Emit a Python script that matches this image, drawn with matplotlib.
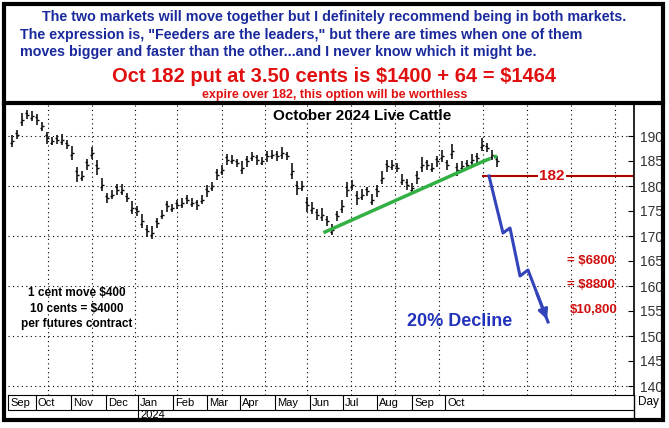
import matplotlib
matplotlib.use("Agg")
import matplotlib.pyplot as plt
from matplotlib.patches import Rectangle
from matplotlib.lines import Line2D

plt.rcParams['font.family'] = ['Liberation Sans', 'DejaVu Sans']
plt.rcParams['text.parse_math'] = False

closes = [189, 190.3, 193.3, 194.3, 194, 193.3, 192, 189.7, 189, 189.3, 189.3, 188.3, 186.7, 182.3,
          182, 184.3, 186.7, 183.7, 180.3, 177.7, 178.3, 179.3, 179.3, 177.7, 175.7, 175, 173, 171,
          170.7, 172.7, 174.3, 176, 175.7, 176.3, 176.7, 177.3, 176.7, 176.3, 177.3, 179, 180, 182.3,
          183.3, 185.3, 185.3, 184.7, 183.7, 185, 186, 185.3, 185, 186, 186.3, 186, 186.7, 186, 183,
          179.7, 180, 176.3, 175.7, 174.3, 174.3, 173, 171.3, 174, 176, 179.3, 180.3, 177.7, 178.3,
          179, 177.3, 179, 181.7, 184, 184.3, 183.7, 181.3, 180.3, 179.7, 181.7, 184.3, 184.3, 183.7,
          185, 186, 184.3, 187, 183.3, 184, 184.3, 185.3, 185.7, 188.3, 187.7, 186.3, 185]
half_ranges = [1.2, 0.9, 1.3, 0.8, 1.0, 1.1, 0.9, 1.2, 0.8, 0.9, 1.1, 0.8, 1.4, 1.6, 1.0, 1.1, 1.2, 1.5,
               1.3, 1.0, 0.9, 1.1, 1.2, 0.9, 1.3, 1.0, 1.4, 1.2, 1.3, 1.0, 0.9, 1.1, 0.8, 0.9, 1.0, 0.8,
               0.9, 1.0, 0.9, 1.2, 0.9, 1.1, 1.0, 1.2, 0.9, 0.8, 1.3, 1.1, 0.9, 1.0, 0.8, 1.1, 0.9, 1.0,
               1.2, 0.8, 1.6, 1.4, 1.0, 1.5, 1.2, 1.1, 1.3, 1.0, 1.2, 1.0, 1.3, 1.5, 1.0, 1.4, 1.1, 0.9,
               1.1, 1.2, 1.3, 1.2, 1.0, 0.9, 1.2, 1.1, 1.0, 1.3, 1.4, 1.0, 0.9, 1.1, 1.2, 1.0, 1.5, 1.3,
               1.0, 0.9, 1.1, 1.0, 1.3, 0.9, 1.0, 1.1]
yticks = [140, 145, 150, 155, 160, 165, 170, 175, 180, 185, 190]
ygrid = [140, 150, 160, 170, 180, 190]
months = ["Sep", "Oct", "Nov", "Dec", "Jan", "Feb", "Mar", "Apr", "May", "Jun", "Jul", "Aug", "Sep", "Oct"]
month_px = [8, 36, 71, 106, 138, 173, 207, 240, 275, 310, 343, 377, 412, 445]
xgrid = [7.2, 16, 24.6, 33, 42, 50.6, 59, 67.8, 76.6, 85.4, 94.2, 103, 111.8, 120.6]
trend_x = [62.6, 94.4]; trend_y = [170.8, 185.0]
trend_ext_x = [94.4, 97.0]; trend_ext_y = [185.0, 186.0]
arrow_x = [95.4, 98.2, 99.6, 101.6, 103.2, 107.2]
arrow_y = [182, 170.6, 171.6, 162, 163.2, 152.8]
strike = 182

W, H = 669, 428
fig = plt.figure(figsize=(W/100, H/100), dpi=100)

def fr(x0, y0, x1, y1):
    return [x0/W, 1-y1/H, (x1-x0)/W, (y1-y0)/H]

ax = fig.add_axes(fr(8, 105, 634, 395))
ax.set_xlim(-0.8, 124.4)
ax.set_ylim(138.2, 196.2)
for g in xgrid:
    ax.axvline(g, color='black', ls=(0, (1, 3)), lw=0.8)
for g in ygrid:
    ax.axhline(g, color='black', ls=(0, (1, 3)), lw=0.8)
for i, (c, r) in enumerate(zip(closes, half_ranges)):
    ax.vlines(i, c - r, c + r, color='black', lw=1.1)
    ax.hlines(c, i, i + 0.35, color='black', lw=1)
    ax.hlines(c + (r * 0.4 if i % 2 else -r * 0.4), i - 0.35, i, color='black', lw=1)
ax.yaxis.tick_right()
ax.set_yticks(yticks)
ax.set_yticklabels([str(v) for v in yticks], fontsize=10, color='#333333')
ax.tick_params(axis='y', length=4, direction='in', pad=4)
ax.set_xticks([])
for s in ['top', 'left', 'bottom']:
    ax.spines[s].set_visible(False)
ax.spines['right'].set_linewidth(1.2)

ax.plot(trend_x, trend_y, color='#33b044', lw=2.5)
ax.plot(trend_ext_x, trend_ext_y, color='#33b044', lw=2.5, ls=(0, (2, 1)))
ax.hlines(strike, 94, 124.4, color='#b00000', lw=1.5)
ax.text(108, strike, "182", color='#d01010', fontsize=11, fontweight='bold', ha='center', va='center',
        bbox=dict(facecolor='white', edgecolor='none', pad=0.5))
ax.plot(arrow_x, arrow_y, color='#3344bb', lw=2.2)
ax.annotate("", xy=(arrow_x[-1], arrow_y[-1]), xytext=(arrow_x[-2] + 1.6, arrow_y[-2] - 4.2),
            arrowprops=dict(arrowstyle='-|>', color='#3344bb', lw=2.2, mutation_scale=14))
ax.text(70, 194, "October 2024 Live Cattle", fontsize=11, fontweight='bold', ha='center', va='center')
ax.text(111, 165, "= $6800", color='#d01010', fontsize=9.5, fontweight='bold', va='center')
ax.text(111, 160.2, "= $8800", color='#d01010', fontsize=9.5, fontweight='bold', va='center')
ax.text(111.5, 155.2, "$10,800", color='#d01010', fontsize=9.5, fontweight='bold', va='center')
ax.text(89.5, 153, "20% Decline", color='#2233bb', fontsize=13, fontweight='bold', ha='center', va='center')
ax.text(13, 155.5, "1 cent move $400\n10 cents = $4000\nper futures contract", fontsize=8.5,
        fontweight='bold', ha='center', va='center', linespacing=1.4)

# month strip
for px, m in zip(month_px, months):
    fig.add_artist(Line2D([px/W, px/W], [1-395/H, 1-410/H], color='black', lw=0.8))
    fig.text((px+2)/W, 1-403/H, m, fontsize=8, va='center', ha='left')
fig.add_artist(Line2D([138/W, 138/W], [1-410/H, 1-418/H], color='black', lw=0.8))
fig.text(140/W, 1-414.5/H, "2024", fontsize=8, va='center')
fig.add_artist(Line2D([8/W, 634/W], [1-410/H, 1-410/H], color='black', lw=0.8))
fig.add_artist(Line2D([8/W, 634/W], [1-395/H, 1-395/H], color='black', lw=0.8))
fig.add_artist(Line2D([634/W, 634/W], [1-395/H, 1-418/H], color='black', lw=1))
fig.text(648/W, 1-402/H, "Day", fontsize=8.5, ha='center', va='center')

# frames
fig.add_artist(Rectangle((4/W, 1-420/H), 659/W, 416/H, fill=False, lw=3, edgecolor='black'))
fig.add_artist(Line2D([4/W, 663/W], [1-103/H, 1-103/H], color='black', lw=3))

blue = '#1a2a9c'
fig.text(0.5, 1-17/H, "The two markets will move together but I definitely recommend being in both markets.",
         color=blue, fontsize=10.3, fontweight='bold', ha='center', va='center')
fig.text(20/W, 1-35/H, 'The expression is, "Feeders are the leaders," but there are times when one of them',
         color=blue, fontsize=10.3, fontweight='bold', ha='left', va='center')
fig.text(20/W, 1-52/H, "moves bigger and faster than the other...and I never know which it might be.",
         color=blue, fontsize=10.3, fontweight='bold', ha='left', va='center')
fig.text(0.5, 1-76/H, "Oct 182 put at 3.50 cents is $1400 + 64 = $1464", color='#e01010',
         fontsize=14.5, fontweight='bold', ha='center', va='center')
fig.text(0.5, 1-95/H, "expire over 182, this option will be worthless", color='#e01010',
         fontsize=9, fontweight='bold', ha='center', va='center')

fig.savefig("out.png", dpi=100)
